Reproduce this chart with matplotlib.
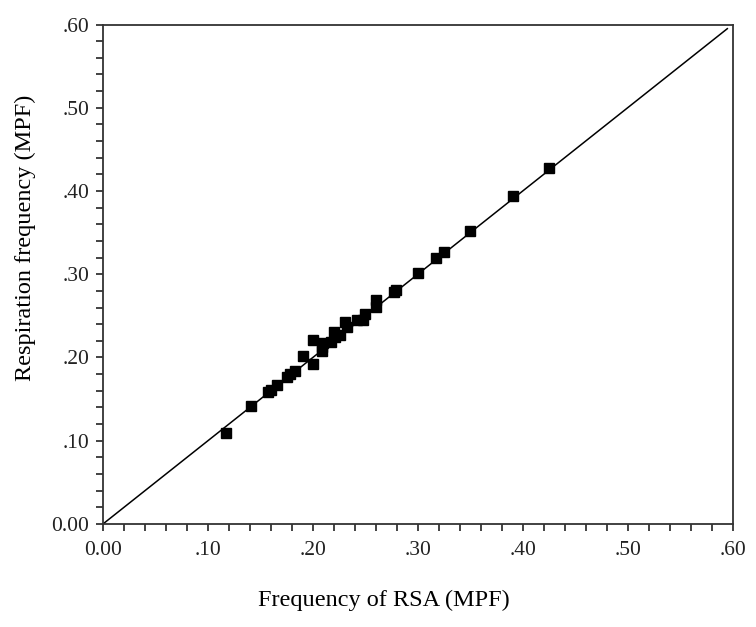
import numpy as np
import matplotlib
matplotlib.use("Agg")
import matplotlib.pyplot as plt
from matplotlib.ticker import MultipleLocator, FuncFormatter

# frequency of RSA vs respiration frequency (MPF)
rsa_freq = [0.117, 0.141, 0.157, 0.160, 0.166, 0.175, 0.178, 0.183, 0.191, 0.200,
            0.200, 0.209, 0.209, 0.210, 0.217, 0.220, 0.221, 0.226, 0.231, 0.233,
            0.242, 0.248, 0.250, 0.260, 0.260, 0.277, 0.279, 0.300, 0.317, 0.325,
            0.350, 0.391, 0.425]
resp_freq = [0.109, 0.142, 0.158, 0.161, 0.167, 0.176, 0.180, 0.184, 0.202, 0.192,
             0.221, 0.213, 0.208, 0.218, 0.219, 0.231, 0.225, 0.227, 0.243, 0.237,
             0.245, 0.245, 0.252, 0.269, 0.261, 0.279, 0.281, 0.302, 0.319, 0.327,
             0.352, 0.394, 0.428]
identity = [0.0, 0.595]

plt.rcParams['font.family'] = ['Liberation Serif', 'DejaVu Serif']

fig = plt.figure(figsize=(7.56, 6.27), dpi=100)
ax = fig.add_axes([0.1362, 0.1643, 0.8328, 0.7966])

ax.plot(identity, identity, color='black', lw=1.1)
ax.plot(rsa_freq, resp_freq, 's', color='black', ms=6.5, mec='black')

ax.set_xlim(0, 0.6)
ax.set_ylim(0, 0.6)

def fmt(v, pos):
    if abs(v) < 1e-9:
        return '0.00'
    return ('%.2f' % v)[1:]

for axis in (ax.xaxis, ax.yaxis):
    axis.set_major_locator(MultipleLocator(0.1))
    axis.set_minor_locator(MultipleLocator(0.02))
    axis.set_major_formatter(FuncFormatter(fmt))

ax.tick_params(which='both', direction='out', length=5, width=1.2,
               top=False, right=False, labelsize=15.5, pad=5, colors='#222222')
ax.tick_params(axis='x', pad=7)
for s in ax.spines.values():
    s.set_linewidth(1.3)
    s.set_color('#333333')

ax.set_xlabel('Frequency of RSA (MPF)', fontsize=17.5)
ax.set_ylabel('Respiration frequency (MPF)', fontsize=17.5)
ax.xaxis.set_label_coords(0.446, -0.132)
ax.yaxis.set_label_coords(-0.106, 0.573)

fig.savefig('out.png', dpi=100)
